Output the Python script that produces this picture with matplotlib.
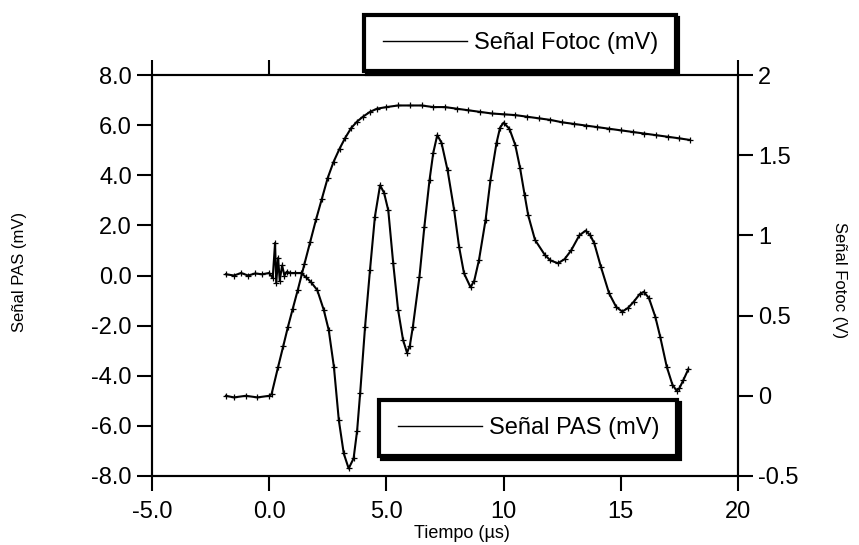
import matplotlib
matplotlib.use("Agg")
import matplotlib.pyplot as plt
from matplotlib.lines import Line2D
from matplotlib.legend_handler import HandlerLine2D

plt.rcParams["font.family"] = ["Liberation Sans", "DejaVu Sans"]

# ---- data (time in us)
t_pas = [-1.85, -1.5, -1.2, -0.9, -0.6, -0.3, 0.0, 0.15, 0.25, 0.3, 0.38, 0.45,
         0.55, 0.65, 0.75, 0.9, 1.1, 1.35, 1.55, 1.77, 2.05, 2.33, 2.54, 2.76,
         2.97, 3.18, 3.39, 3.6, 3.75, 3.88, 4.09, 4.3, 4.51, 4.73, 4.9, 5.08,
         5.29, 5.5, 5.71, 5.88, 6.0, 6.13, 6.41, 6.62, 6.84, 7.0, 7.17, 7.35,
         7.61, 7.89, 8.1, 8.31, 8.59, 8.75, 8.95, 9.23, 9.44, 9.7, 9.85, 10.0,
         10.25, 10.5, 10.7, 10.9, 11.05, 11.34, 11.76, 12.0, 12.32, 12.6, 12.88,
         13.23, 13.5, 13.7, 13.87, 14.15, 14.5, 14.8, 15.06, 15.3, 15.55, 15.8,
         15.98, 16.2, 16.47, 16.68, 16.96, 17.2, 17.38, 17.5, 17.67, 17.88]
pas = [0.05, 0.0, 0.1, 0.0, 0.08, 0.05, 0.1, -0.1, 1.3, -0.3, 0.7, -0.2,
       0.4, 0.0, 0.15, 0.1, 0.1, 0.1, -0.05, -0.25, -0.58, -1.38, -2.18, -3.64,
       -5.77, -7.1, -7.7, -7.3, -6.2, -4.7, -2.04, 0.22, 2.35, 3.6, 3.3, 2.6,
       0.49, -1.38, -2.57, -3.08, -2.8, -2.04, -0.05, 1.95, 3.81, 4.9, 5.6, 5.3,
       4.2, 2.61, 1.15, 0.09, -0.47, -0.2, 0.62, 2.21, 3.81, 5.3, 5.9, 6.1,
       5.85, 5.2, 4.3, 3.2, 2.4, 1.42, 0.82, 0.6, 0.49, 0.65, 1.0,
       1.6, 1.79, 1.6, 1.28, 0.35, -0.71, -1.25, -1.44, -1.3, -1.05, -0.75,
       -0.65, -0.9, -1.64, -2.44, -3.64, -4.35, -4.6, -4.5, -4.17, -3.74]

t_fot = [-1.85, -1.5, -1.0, -0.5, 0.0, 0.1, 0.38, 0.6, 0.8, 1.0, 1.22, 1.5,
         1.75, 2.0, 2.25, 2.5, 2.75, 3.0, 3.25, 3.5, 3.75, 4.0, 4.3, 4.6, 5.0,
         5.5, 6.0, 6.5, 7.0, 7.5, 8.0, 8.5, 9.0, 9.5, 10.0, 10.5, 11.0, 11.5,
         12.0, 12.5, 13.0, 13.5, 14.0, 14.5, 15.0, 15.5, 16.0, 16.5, 17.0,
         17.5, 17.95]
fotoc = [0.0, -0.01, 0.0, -0.01, 0.0, 0.01, 0.18, 0.31, 0.43, 0.54, 0.66, 0.82,
         0.96, 1.1, 1.23, 1.36, 1.46, 1.54, 1.61, 1.67, 1.71, 1.74, 1.77, 1.79,
         1.80, 1.81, 1.81, 1.81, 1.80, 1.80, 1.79, 1.78, 1.77, 1.76, 1.755, 1.75,
         1.74, 1.73, 1.72, 1.705, 1.695, 1.685, 1.675, 1.665, 1.655, 1.645,
         1.635, 1.625, 1.615, 1.605, 1.595]

x_ticks = [-5, 0, 5, 10, 15, 20]
x_labels = ["-5.0", "0.0", "5.0", "10", "15", "20"]
yl_ticks = [8, 6, 4, 2, 0, -2, -4, -6, -8]
yl_labels = ["8.0", "6.0", "4.0", "2.0", "0.0", "-2.0", "-4.0", "-6.0", "-8.0"]
yr_ticks = [2, 1.5, 1, 0.5, 0, -0.5]
yr_labels = ["2", "1.5", "1", "0.5", "0", "-0.5"]

W, H = 859, 545
fig = plt.figure(figsize=(W / 100, H / 100), dpi=100)
ax = fig.add_axes([152 / W, 1 - 476 / H, (738 - 152) / W, (476 - 75) / H])
ax2 = ax.twinx()

line_kw = dict(color="k", lw=1.5, marker="+", ms=4, mew=0.9)
ax.plot(t_pas, pas, **line_kw)
ax2.plot(t_fot, fotoc, **line_kw)

ax.set_xlim(-5, 20); ax.set_ylim(-8, 8); ax2.set_ylim(-0.5, 2)
ax.set_xticks(x_ticks); ax.set_xticklabels(x_labels)
ax.set_yticks(yl_ticks); ax.set_yticklabels(yl_labels)
ax2.set_yticks(yr_ticks); ax2.set_yticklabels(yr_labels)

tick_kw = dict(direction="out", length=11, width=1.5, labelsize=17, pad=3.5)
ax.tick_params(axis="x", top=True, bottom=True, **tick_kw)
ax.tick_params(axis="x", pad=7)
ax.tick_params(axis="y", left=True, right=False, **tick_kw)
ax2.tick_params(axis="y", right=True, **tick_kw)
for a in (ax, ax2):
    for s in a.spines.values():
        s.set_linewidth(1.5)

fig.text(462 / W, 1 - 533 / H, "Tiempo (µs)", ha="center", va="center", fontsize=13)
fig.text(20 / W, 1 - 272 / H, "Señal PAS (mV)", ha="center", va="center",
         rotation=90, fontsize=12)
fig.text(840 / W, 1 - 280 / H, "Señal Fotoc (V)", ha="center", va="center",
         rotation=-90, fontsize=12)

handler = {Line2D: HandlerLine2D(marker_pad=0.1, numpoints=2)}
leg_kw = dict(loc="upper left", frameon=True, fancybox=False, framealpha=1,
              facecolor="white", edgecolor="k", shadow={"color": "k", "alpha": 1},
              fontsize=17, handlelength=3.75, handletextpad=0.2, borderpad=0.72,
              borderaxespad=0, handler_map=handler)
for label, (lx, ly) in [("Señal Fotoc (mV)", (364, 15)), ("Señal PAS (mV)", (379, 400))]:
    leg = fig.legend(handles=[Line2D([], [], color="k", lw=1)], labels=[label],
                     bbox_to_anchor=(lx / W, 1 - ly / H), **leg_kw)
    leg.get_frame().set_linewidth(3)

fig.savefig("out.png", dpi=100)
